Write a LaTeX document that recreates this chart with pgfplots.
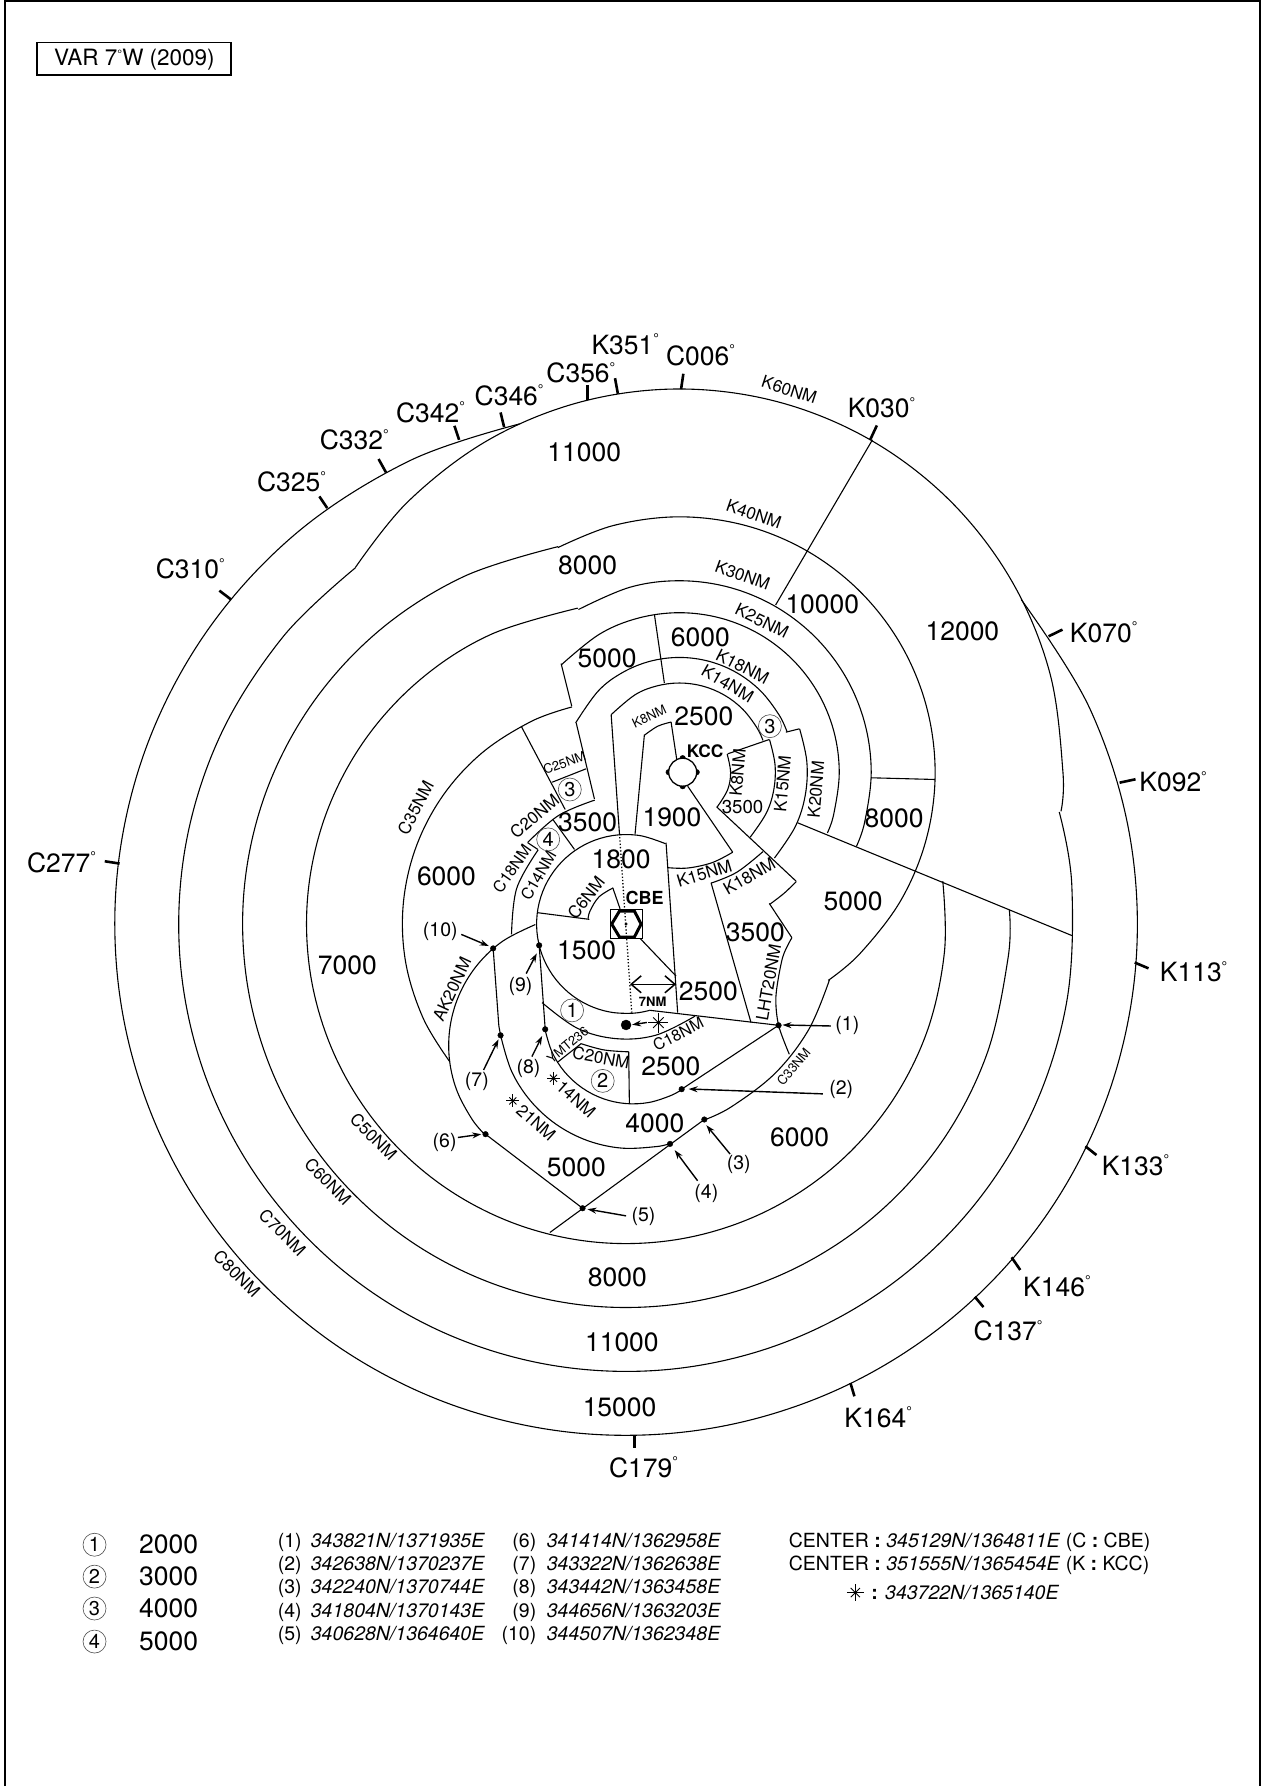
\documentclass[border=0pt]{standalone}
\usepackage{fontspec}
\setmainfont{TeX Gyre Heros}
\usepackage{pgfplots}
\pgfplotsset{compat=1.18}
\usetikzlibrary{arrows.meta}

% font sizes, px of the reference
\newcommand{\fbig}{\fontsize{26.5}{26.5}\selectfont}
\newcommand{\fmid}{\fontsize{19.5}{19.5}\selectfont}
\newcommand{\fsm}{\fontsize{17}{17}\selectfont}
\newcommand{\fss}{\fontsize{16}{16}\selectfont}
\newcommand{\ftn}{\fontsize{13}{13}\selectfont}
\newcommand{\dg}{\raisebox{0.75ex}{\fontsize{14}{14}\selectfont °}}
\newcommand{\T}[4][]{\node[inner sep=0pt,#1] at (axis cs:#2,#3) {#4};}
\newcommand{\B}[3]{\T[font=\fbig]{#1}{#2}{#3}}
\newcommand{\BD}[3]{\T[font=\fbig]{#1}{#2}{#3\dg}}
\newcommand{\Sm}[4]{\T[font=\fsm,rotate=#3]{#1}{#2}{#4}}
\newcommand{\Ss}[4]{\T[font=\fss,rotate=#3]{#1}{#2}{#4}}
\newcommand{\Tn}[4]{\T[font=\ftn,rotate=#3]{#1}{#2}{#4}}
\newcommand{\Circ}[3]{\node[circle,draw=black!70,line width=0.6pt,minimum size=23pt,inner sep=0pt,font=\fontsize{20}{20}\selectfont] at (axis cs:#1,#2) {#3};}
\newcommand{\Row}[3]{\T[font=\fmid,anchor=base west]{#1}{#2}{\itshape #3}}
\newcommand{\Num}[3]{\T[font=\fmid,anchor=base east]{#1}{#2}{#3}}

\pgfplotsset{
  arcaxis/.style={hide axis, clip=false, x=6.395pt, y=6.395pt,
    xmin=-1, xmax=1, ymin=-1, ymax=1, anchor=origin},
  arc/.style={black, line width=1.1pt, smooth, tension=0.6, data cs=polar},
  ln/.style={black, line width=1.1pt},
  tk/.style={black, line width=2.6pt},
  ar/.style={black, line width=1.4pt, -{Stealth[length=9pt,width=6pt]}},
  dot/.style={only marks, mark=*, mark size=2.8pt, mark options={black}},
  star/.style={only marks, mark size=#1, mark options={black, line width=0.9pt}},
}

\begin{document}
\begin{tikzpicture}
\path (0,0) rectangle (1266pt,1787pt);

% arcs round KCC, (angle, NM)
\begin{axis}[arcaxis, at={(679.8pt,1014.2pt)}]
\addplot[arc] coordinates {(147.7,60)(135,60)(120,60)(105,60)(90,60)(75,60)(60,60)(45,60)(30,60)(15,60)(0,60)(-5.8,60)};
\addplot[arc] coordinates {(118.4,40)(105,40)(90,40)(75,40)(60,40)(45,40)(30,40)(15,40)(0,40)(-15,40)(-30,40)(-45,40)(-54.4,40)};
\addplot[arc] coordinates {(121.8,30)(105,30)(90,30)(75,30)(60,30)(45,30)(30,30)(15,30)(0,30)(-15,30)(-22.7,30)};
\addplot[arc] coordinates {(137.4,25)(120,25)(105,25)(90,25)(75,25)(60,25)(45,25)(30,25)(15,25)(0,25)(-15,25)(-22.2,25)};
\addplot[arc] coordinates {(154.4,18)(135,18)(120,18)(105,18)(90,18)(75,18)(60,18)(45,18)(30,18)(20.7,18)};
\addplot[arc] coordinates {(20,20)(5,20)(-10,20)(-25,20)(-42,20)};
\addplot[arc] coordinates {(139.7,14)(120,14)(105,14)(90,14)(75,14)(60,14)(45,14)(30,14)(21,14)};
\addplot[arc] coordinates {(20.1,15)(5,15)(-10,15)(-25,15)(-42.5,15)};
\addplot[arc] coordinates {(-56.2,15)(-70,15)(-85,15)(-97,15)};
\addplot[arc] coordinates {(-74,18)(-60,18)(-43.4,18)};
\addplot[arc] coordinates {(21,8)(0,8)(-20,8)(-42.7,8)};
\addplot[arc] coordinates {(132.7,8)(115,8)(99.3,8)};
\addplot[arc] coordinates {(-43,25)(-49,25)(-55.5,25)};
\end{axis}

% arcs round CBE
\begin{axis}[arcaxis, at={(626.4pt,862.6pt)}]
\addplot[arc] coordinates {(102,80)(115,80)(130,80)(145,80)(160,80)(175,80)(190,80)(205,80)(220,80)(235,80)(250,80)(265,80)(280,80)(295,80)(310,80)(325,80)(340,80)(355,80)(370,80)(385,80)(399.4,80)};
\addplot[arc] coordinates {(127.2,70)(140,70)(155,70)(170,70)(185,70)(200,70)(215,70)(230,70)(245,70)(260,70)(275,70)(290,70)(305,70)(320,70)(335,70)(350,70)(365,70)(374.5,70)};
\addplot[arc] coordinates {(100.2,60)(115,60)(130,60)(145,60)(160,60)(175,60)(190,60)(205,60)(220,60)(235,60)(250,60)(265,60)(280,60)(295,60)(310,60)(325,60)(340,60)(355,60)(362.1,60)};
\addplot[arc] coordinates {(98.7,50)(115,50)(130,50)(145,50)(160,50)(175,50)(190,50)(205,50)(220,50)(235,50)(250,50)(265,50)(280,50)(295,50)(310,50)(325,50)(340,50)(355,50)(367.7,50)};
\addplot[arc] coordinates {(104,35)(115,35)(130,35)(145,35)(160,35)(175,35)(190,35)(205,35)(218,35)};
\addplot[arc] coordinates {(-15.3,33)(-30,33)(-45,33)(-60,33)(-68.2,33)};
\addplot[arc] coordinates {(104.2,20)(122,20)(140.4,20)};
\addplot[arc] coordinates {(139.8,18)(162,18)(185.2,18)};
\addplot[arc] coordinates {(223.1,18)(245,18)(265,18)(285,18)(306.8,18)};
\addplot[arc] coordinates {(249.4,20)(260,20)(271.2,20)};
\addplot[arc] coordinates {(63.8,14)(80,14)(95,14)(110,14)(125,14)(140,14)(155,14)(170,14)(185,14)(200,14)(215,14)(230,14)(245,14)(260,14)(275,14)(285.2,14)};
\addplot[arc] coordinates {(110,6)(135,6)(160,6)(172.7,6)};
\end{axis}

% AK20NM
\begin{axis}[arcaxis, at={(576.8pt,741pt)}]
\addplot[arc] coordinates {(108.8,20)(125,20)(140,20)(155,20)(170,20)(185,20)(200,20)(215,20)(224.3,20)};
\end{axis}

% arcs round the star
\begin{axis}[arcaxis, at={(633.5pt,772.2pt)}]
\addplot[arc] coordinates {(189.7,14)(205,14)(220,14)(235,14)(250,14)(265,14)(280,14)(295,14)(303,14)};
\addplot[arc] coordinates {(189,21)(205,21)(220,21)(235,21)(250,21)(265,21)(280,21)(286,21)};
\end{axis}

% page, in units of 1111 x 1568
\begin{axis}[hide axis, clip=false, scale only axis, width=1266pt, height=1787pt,
  xmin=0, xmax=1111, ymin=0, ymax=1568, y dir=reverse]
% frame and box
\addplot[black, line width=1.6pt] coordinates {(4.4,1568)(4.4,0.6)(1106.5,0.6)(1106.5,1568)};
\addplot[black, line width=1.5pt] coordinates {(32.7,37.1)(202.6,37.1)(202.6,65.8)(32.7,65.8)(32.7,37.1)};
% straight boundaries
\addplot[ln] coordinates {(766,386)(681,531)};
\addplot[ln] coordinates {(764.6,682.7)(820.8,684.2)};
\addplot[ln] coordinates {(700.3,722.2)(941.6,821.4)};
\addplot[ln] coordinates {(574.6,539.5)(583.3,599.4)};
\addplot[ln] coordinates {(502,619.9)(492.7,582.5)};
\addplot[ln] coordinates {(457.6,637.4)(496.2,710.5)};
\addplot[ln] coordinates {(484.8,686.6)(514.6,674.8)};
\addplot[ln] coordinates {(505.9,634.5)(521.9,701.2)};
\addplot[ln] coordinates {(690,642.7)(701.8,639.7)};
\addplot[ln] coordinates {(675.4,649.1)(638.9,661.7)};
\addplot[ln] coordinates {(629.2,708.2)(698.9,773.4)};
\addplot[ln] coordinates {(624.3,774.8)(659.4,897.6)};
\addplot[ln] coordinates {(675.4,793)(695.3,823.1)};
\addplot[ln, smooth] coordinates {(695.3,823.1)(687.1,840.6)(681.3,874.3)(683.6,900)(693,925.4)};
\addplot[ln] coordinates {(603.8,690.1)(643.3,748)};
\addplot[ln] coordinates {(536.6,627.2)(543.9,731.9)};
\addplot[black, line width=1.3pt, dotted] coordinates {(543.9,731.9)(554.7,888.9)};
\addplot[ln] coordinates {(557.6,731.9)(565.8,644.7)};
\addplot[ln] coordinates {(589.2,633.6)(594.1,666.1)};
\addplot[ln] coordinates {(584.8,739.7)(595,888.9)};
\addplot[ln] coordinates {(570.2,886.8)(683.6,900)};
\addplot[ln] coordinates {(463.4,739.7)(472.2,745.6)};
\addplot[ln] coordinates {(485.4,719.3)(504.4,745.6)};
\addplot[ln] coordinates {(489.8,932.2)(510.2,916.1)};
\addplot[ln] coordinates {(552,923.1)(552.6,968.7)};
\addplot[ln] coordinates {(471.7,801.1)(517.5,807)};
\addplot[ln] coordinates {(538,779.2)(544.4,797.7)};
\addplot[ln] coordinates {(562,823.7)(593.6,856.8)};
\addplot[ln] coordinates {(473.4,829.8)(478.7,903.5)};
\addplot[ln] coordinates {(433,832.5)(438,900.6)(439.5,908.8)};
\addplot[ln] coordinates {(426.3,995.6)(511.5,1060.6)};
\addplot[ln] coordinates {(683.6,900)(598.5,956.1)};
\addplot[ln] coordinates {(618.4,982.7)(482.8,1081.9)};
% bearing ticks
\addplot[tk] coordinates {(92,756)(105,758)};
\addplot[tk] coordinates {(192.6,518.4)(203,526.3)};
\addplot[tk] coordinates {(280.4,435.7)(287.3,445.9)};
\addplot[tk] coordinates {(332.4,402.9)(338.9,414.6)};
\addplot[tk] coordinates {(399,373.7)(403.1,386)};
\addplot[tk] coordinates {(439.5,362)(442.6,374.8)};
\addplot[tk] coordinates {(515.8,337.7)(515.8,350.9)};
\addplot[tk] coordinates {(540,331.9)(542.5,345.6)};
\addplot[tk] coordinates {(600,328)(598,341.5)};
\addplot[tk] coordinates {(769.9,373.4)(764,386)};
\addplot[tk] coordinates {(932.9,552.6)(920.7,558.5)};
\addplot[tk] coordinates {(997,684)(983,687)};
\addplot[tk] coordinates {(1008.4,850)(996.3,844.9)};
\addplot[tk] coordinates {(962.7,1013.9)(953,1006.2)};
\addplot[tk] coordinates {(895.8,1114.8)(888.2,1103.7)};
\addplot[tk] coordinates {(863.5,1147.4)(855.9,1138.3)};
\addplot[tk] coordinates {(750.2,1225.7)(746.7,1214)};
\addplot[tk] coordinates {(557,1271)(557,1260)};
% CBE symbol
\addplot[black, line width=0.8pt] coordinates {(535.7,798.2)(564.3,798.2)(564.3,823.7)(535.7,823.7)(535.7,798.2)};
\addplot[black, line width=3pt] coordinates {(537.1,811.1)(543.9,799.7)(557,799.7)(562.9,811.1)(557,822.5)(543.9,822.5)(537.1,811.1)};
\addplot[only marks, mark=*, mark size=1.3pt, mark options={black}] coordinates {(549.7,811.1)};
% KCC symbol
\addplot[only marks, mark=*, mark size=2.8pt, mark options={black}] coordinates {(599.4,665.5)(599.4,690.1)(587.1,677.8)(611.7,677.8)};
\addplot[only marks, mark=*, mark size=14pt, mark options={fill=white, draw=black, line width=1.3pt}] coordinates {(599.4,677.8)};
% points (1) to (10)
\addplot[dot] coordinates {(683.6,900)(598.5,956.1)(618.4,982.7)(588.3,1004.1)(511.5,1060.6)(426.3,995.6)(439.5,908.8)(478.7,903.5)(473.4,829.8)(433,832.5)};
\addplot[only marks, mark=*, mark size=5pt, mark options={black}] coordinates {(549.7,899.7)};
\addplot[star=10pt, mark=+] coordinates {(578.1,897.7)};
\addplot[star=7.5pt, mark=x] coordinates {(578.1,897.7)};
\addplot[star=6.5pt, mark=+] coordinates {(486,946.5)(450.3,966.4)};
\addplot[star=5pt, mark=x] coordinates {(486,946.5)(450.3,966.4)};
\addplot[star=8.5pt, mark=+] coordinates {(751,1398)};
\addplot[star=6.5pt, mark=x] coordinates {(751,1398)};
% arrows
\addplot[ar] coordinates {(729.6,900.6)(687,899.7)};
\addplot[ar] coordinates {(722.5,960.2)(604.6,955.9)};
\addplot[ar] coordinates {(641,1013)(620.2,987.7)};
\addplot[ar] coordinates {(612.5,1036.5)(592.4,1009.6)};
\addplot[ar] coordinates {(549.7,1067.3)(515.8,1061.4)};
\addplot[ar] coordinates {(402,998.5)(422.5,995.6)};
\addplot[ar] coordinates {(424.6,939.2)(437.7,912.3)};
\addplot[ar] coordinates {(467,927.5)(476,909.4)};
\addplot[ar] coordinates {(462,854.6)(471.3,836.8)};
\addplot[ar] coordinates {(405,820.2)(429.2,830.4)};
\addplot[ar] coordinates {(568,897.5)(555,899.5)};
\addplot[black, line width=1.5pt, {Straight Barb[length=10pt,width=17pt]}-{Straight Barb[length=10pt,width=17pt]}] coordinates {(553.2,864)(593.6,864)};

% bearing labels
\BD{54}{757}{C277} \BD{167}{499}{C310} \BD{256}{423}{C325} \BD{311}{386}{C332}
\BD{378}{362}{C342} \BD{447}{347}{C346} \BD{510}{327}{C356} \BD{549}{302}{K351}
\BD{615}{312}{C006} \BD{774}{358}{K030} \BD{969}{555}{K070} \BD{1030}{686}{K092}
\BD{1048}{853}{K113} \BD{997}{1023}{K133} \BD{928}{1129}{K146} \BD{885}{1168}{C137}
\BD{771}{1244}{K164} \BD{565}{1288}{C179}
% altitudes
\B{513}{397}{11000} \B{516}{496}{8000} \B{722}{530}{10000} \B{845}{554}{12000}
\B{533}{578}{5000} \B{615}{559}{6000} \B{618}{629}{2500} \B{516}{721.6}{3500}
\B{590}{717}{1900} \B{785}{718}{8000} \B{749}{791}{5000} \B{392}{769}{6000}
\B{305}{847}{7000} \B{545.4}{754.4}{1800} \B{515}{834}{1500} \B{622}{870}{2500}
\B{663.2}{818}{3500} \B{589}{935.7}{2500} \B{575}{986}{4000} \B{702}{998}{6000}
\B{506}{1025}{5000} \B{542}{1121}{8000} \B{546}{1178}{11000} \B{544}{1235}{15000}
\T[font=\fontsize{18.7}{18.7}\selectfont]{652}{708}{3500}
% distance labels
\Sm{693}{342}{-18}{K60NM} \Sm{662}{451}{-19}{K40NM} \Sm{652}{505}{-20}{K30NM}
\Sm{669}{545}{-26}{K25NM} \Sm{652}{585}{-27}{K18NM} \Sm{639}{600}{-30}{K14NM}
\Ss{449.5}{762.6}{55}{C18NM} \Ss{472.7}{768.5}{60}{C14NM} \Sm{469.3}{716.4}{40}{C20NM}
\Sm{514.6}{788}{52}{C6NM} \Sm{618.4}{766.7}{17}{K15NM} \Sm{657.9}{769}{30}{K18NM}
\Sm{647.7}{678.4}{85}{K8NM} \Sm{687.1}{688}{85}{K15NM} \Sm{716.4}{693}{85}{K20NM}
\Sm{674.8}{862.6}{80}{LHT20NM} \Ss{595.5}{907.5}{27}{C18NM} \Sm{527.8}{928.4}{-10}{C20NM}
\Sm{396.8}{868.4}{65}{AK20NM} \Sm{364.9}{709}{62}{C35NM}
\Sm{328}{998}{-45}{C50NM} \Sm{288}{1037}{-45}{C60NM} \Sm{248}{1082}{-45}{C70NM} \Sm{208}{1118}{-45}{C80NM}
\Sm{505.9}{964.9}{-42}{14NM} \Sm{470.8}{985.4}{-42}{21NM}
\Tn{570}{629}{25}{K8NM} \Tn{495.6}{669.6}{20}{C25NM} \Tn{696.8}{936.2}{50}{C33NM} \Tn{498.5}{917.3}{40}{YMT236}
\T[font=\ftn\bfseries]{573}{879.6}{7NM}
\T[font=\fontsize{18}{18}\selectfont\bfseries]{566}{788}{CBE}
\T[font=\fontsize{17.3}{17.3}\selectfont\bfseries]{619}{659}{KCC}
% circled altitude marks
\Circ{502.3}{886.9}{1} \Circ{529.2}{948.8}{2} \Circ{676}{637.4}{3} \Circ{500.3}{693}{3} \Circ{481.3}{736.8}{4}
% point labels
\T[font=\fmid]{744}{900}{(1)} \T[font=\fmid]{738.6}{956.5}{(2)} \T[font=\fmid]{648.6}{1022.4}{(3)}
\T[font=\fmid]{620.2}{1047.3}{(4)} \T[font=\fmid]{565}{1068}{(5)} \T[font=\fmid]{390.4}{1002.9}{(6)}
\T[font=\fmid]{418.7}{949.7}{(7)} \T[font=\fmid]{464}{938}{(8)} \T[font=\fmid]{457}{866}{(9)} \T[font=\fmid]{386.6}{817.8}{(10)}
% variation box
\T[font=\fontsize{22.5}{22.5}\selectfont]{118}{52}{VAR 7\raisebox{0.6ex}{\fontsize{12}{12}\selectfont °}W (2009)}
% legend
\Circ{83}{1356}{1} \Circ{83}{1384}{2} \Circ{83}{1412}{3} \Circ{83}{1441}{4}
\B{148}{1356}{2000} \B{148}{1384}{3000} \B{148}{1412}{4000} \B{148}{1441}{5000}
\Num{265}{1358.8}{(1)} \Row{272.8}{1358.8}{343821N/1371935E}
\Num{265}{1379}{(2)} \Row{272.8}{1379}{342638N/1370237E}
\Num{265}{1399.2}{(3)} \Row{272.8}{1399.2}{342240N/1370744E}
\Num{265}{1419.7}{(4)} \Row{272.8}{1419.7}{341804N/1370143E}
\Num{265}{1440.2}{(5)} \Row{272.8}{1440.2}{340628N/1364640E}
\Num{471}{1358.8}{(6)} \Row{480}{1358.8}{341414N/1362958E}
\Num{471}{1379}{(7)} \Row{480}{1379}{343322N/1362638E}
\Num{471}{1399.2}{(8)} \Row{480}{1399.2}{343442N/1363458E}
\Num{471}{1419.7}{(9)} \Row{480}{1419.7}{344656N/1363203E}
\Num{471}{1440.2}{(10)} \Row{480}{1440.2}{344507N/1362348E}
\T[font=\fmid,anchor=base west]{692.5}{1358.8}{CENTER {\bfseries:} \textit{345129N/1364811E} (C {\bfseries:} CBE)}
\T[font=\fmid,anchor=base west]{692.5}{1379}{CENTER {\bfseries:} \textit{351555N/1365454E} (K {\bfseries:} KCC)}
\T[font=\fmid,anchor=base west]{765}{1403.8}{{\bfseries:} \textit{343722N/1365140E}}
\end{axis}
\end{tikzpicture}
\end{document}
